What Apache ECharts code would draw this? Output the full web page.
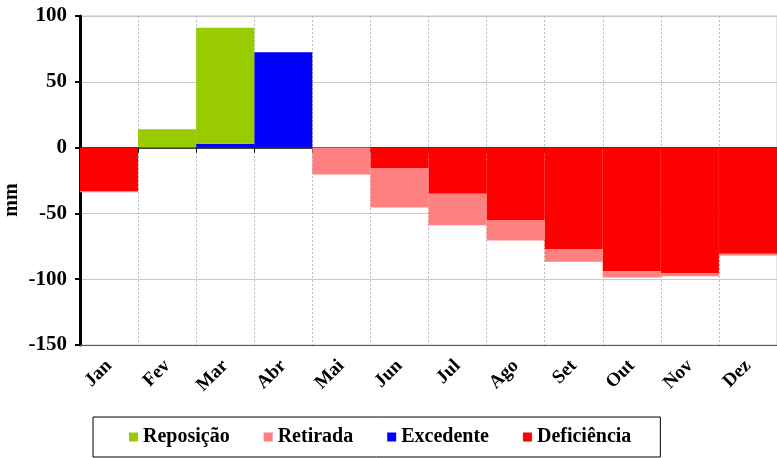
<!DOCTYPE html>
<html>
<head>
<meta charset="utf-8">
<script src="https://cdn.jsdelivr.net/npm/echarts@6/dist/echarts.min.js"></script>
<style>
  html, body { margin: 0; padding: 0; background: #fff; }
  #chart { width: 777px; height: 458px; }
</style>
</head>
<body>
<div id="chart"></div>
<script>
// meses
const months = ['Jan', 'Fev', 'Mar', 'Abr', 'Mai', 'Jun', 'Jul', 'Ago', 'Set', 'Out', 'Nov', 'Dez']
const yTicks = [-150, -100, -50, 0, 50, 100]

// valores em mm (empilhados: positivos de baixo p/ cima, negativos de cima p/ baixo)
const excedente   = [0, 0, 3, 72.5, 0, 0, 0, 0, 0, 0, 0, 0]
const reposicao   = [0, 14, 88, 0, 0, 0, 0, 0, 0, 0, 0, 0]
const deficiencia = [-33, 0, 0, 0, 0, -15.5, -35, -55, -77, -94, -95.3, -80.7]
const retirada    = [-1, 0, 0, 0, -20.5, -30, -24, -15.5, -9.8, -4.8, -2.4, -1.2]

const font = 'Liberation Serif'
const chart = echarts.init(document.getElementById('chart'))

const option = {
    animation: false,
    grid: { left: 80, top: 16, right: -6, bottom: 113, show: true, borderColor: '#c8c8c8', borderWidth: 1 },
    legend: {
        data: ['Reposição', 'Retirada', 'Excedente', 'Deficiência'],
        left: 93,
        top: 417,
        padding: [10, 29, 10, 36],
        itemWidth: 9,
        itemHeight: 9,
        itemGap: 34,
        borderColor: '#000',
        borderWidth: 1,
        icon: 'rect',
        textStyle: { fontFamily: font, fontWeight: 'bold', fontSize: 20, color: '#000' }
    },
    xAxis: [
        {
            type: 'category',
            data: months,
            axisLine: { onZero: false, lineStyle: { color: '#555', width: 1 } },
            axisTick: { show: false },
            axisLabel: {
                rotate: 45,
                margin: 18,
                interval: 0,
                fontFamily: font,
                fontWeight: 'bold',
                fontSize: 19,
                color: '#000'
            },
            splitLine: { show: true, interval: 0, lineStyle: { color: '#bbb', type: [2, 2], width: 1 } }
        },
        {
            // linha do zero
            type: 'category',
            data: months,
            position: 'bottom',
            axisLine: { onZero: true, lineStyle: { color: '#000', width: 1.5 } },
            axisTick: { show: true, interval: 0, length: 5, lineStyle: { color: '#000', width: 1 } },
            axisLabel: { show: false },
            splitLine: { show: false }
        }
    ],
    yAxis: {
        type: 'value',
        min: yTicks[0],
        max: yTicks[yTicks.length - 1],
        interval: 50,
        axisLine: { show: true, lineStyle: { color: '#000', width: 3 } },
        axisTick: { show: true, length: 5, lineStyle: { color: '#000', width: 2 } },
        axisLabel: { margin: 13, fontFamily: font, fontWeight: 'bold', fontSize: 21, color: '#000' },
        splitLine: { lineStyle: { color: '#c8c8c8', width: 1 } }
    },
    graphic: [
        {
            type: 'text',
            x: 12,
            y: 200,
            rotation: Math.PI / 2,
            style: {
                text: 'mm',
                fontFamily: font,
                fontWeight: 'bold',
                fontSize: 20,
                fill: '#000',
                align: 'center',
                verticalAlign: 'middle'
            }
        }
    ],
    series: [
        { name: 'Excedente', type: 'bar', stack: 'bh', data: excedente, barCategoryGap: '0%', itemStyle: { color: '#0000FF' } },
        { name: 'Reposição', type: 'bar', stack: 'bh', data: reposicao, barCategoryGap: '0%', itemStyle: { color: '#99CC00' } },
        { name: 'Deficiência', type: 'bar', stack: 'bh', data: deficiencia, barCategoryGap: '0%', itemStyle: { color: '#FF0000' } },
        { name: 'Retirada', type: 'bar', stack: 'bh', data: retirada, barCategoryGap: '0%', itemStyle: { color: '#FF8080' } }
    ]
}

chart.setOption(option)
</script>
</body>
</html>
